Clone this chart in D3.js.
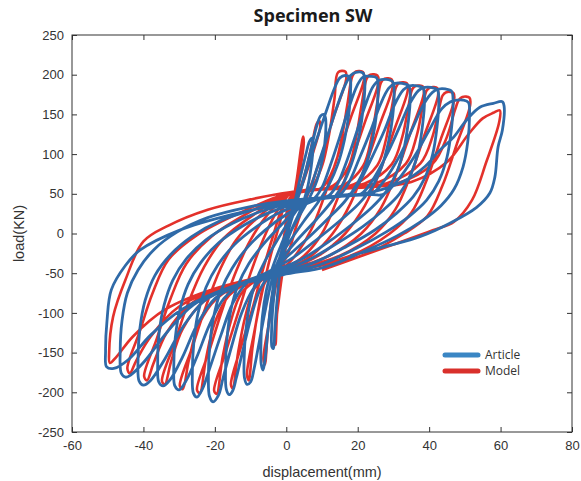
<!DOCTYPE html>
<html>
<head>
<meta charset="utf-8">
<script src="https://cdn.jsdelivr.net/npm/d3@7"></script>
<style>
  body { margin: 0; background: #fff; }
  svg { display: block; }
  .tick text { font-family: "Liberation Sans", Arial, sans-serif; font-size: 13px; fill: #333; }
</style>
</head>
<body>
<div id="chart"></div>
<script>
// axis ticks
const xTicks = [-60, -40, -20, 0, 20, 40, 60, 80];
const yTicks = [-250, -200, -150, -100, -50, 0, 50, 100, 150, 200, 250];

// Article (test) curve, one array per cycle, [displacement mm, load kN]
const article = [
  [[0,0],[1,18],[2.5,42],[4,72],[5.5,100],[6.5,116],[7.2,120],[7.5,112],[7,85],[5.8,55],[4,30],[1.5,5],[-0.5,-20],[-1.8,-50],[-2.6,-85],[-3.2,-120],[-3.6,-145],[-4,-143],[-4.1,-120],[-3.7,-90],[-3,-60],[-1.8,-32],[0,-5],[1.5,18]],
  [[2.5,35],[4,55],[5.5,80],[7,108],[8.5,135],[9.6,148],[10.5,150],[11,145],[11,125],[10.2,95],[8.6,67],[6.5,45],[4,25],[1,0],[-1.5,-25],[-3,-50],[-4.2,-85],[-5.2,-125],[-6,-160],[-6.5,-172],[-7,-165],[-7.1,-140],[-6.7,-105],[-5.6,-72],[-4,-45],[-1.5,-15],[1,12],[2.5,32]],
  [[3,45],[4.5,62],[6.5,92],[9,125],[11.5,158],[13.5,183],[15,196],[16.5,199],[17.8,196],[18,180],[17.5,150],[16.3,118],[14.5,88],[12,62],[9,40],[5,16],[1,-10],[-2,-32],[-4,-58],[-5.8,-95],[-7.5,-135],[-9,-170],[-10,-187],[-11,-190],[-11.7,-182],[-11.8,-158],[-11.3,-122],[-10.2,-88],[-8.5,-60],[-6,-35],[-3,-12],[0,10],[3,30]],
  [[5,42],[6.8,58],[9,88],[11.5,122],[14,157],[16.3,185],[18,199],[19.5,203],[21.5,202],[22,190],[21.6,160],[20.5,126],[18.8,95],[16.3,66],[13,42],[8.5,18],[3.5,-6],[-1,-30],[-4.5,-50],[-7.5,-72],[-10,-108],[-12.2,-148],[-14,-182],[-15,-198],[-16,-203],[-16.8,-196],[-17,-170],[-16.6,-132],[-15.5,-96],[-13.5,-65],[-10.5,-38],[-6.5,-14],[-2,8],[2,26],[6,40]],
  [[8,45],[10,58],[12.5,88],[15,122],[17.5,158],[19.8,186],[21.5,197],[23.5,198],[25.3,196],[25.7,183],[25.3,152],[24.2,120],[22.4,88],[19.8,62],[16.3,40],[11.5,18],[6,-6],[0,-30],[-5,-50],[-9,-68],[-12.5,-100],[-15.3,-142],[-17.7,-182],[-19,-204],[-20.5,-212],[-21.5,-205],[-21.8,-178],[-21.4,-140],[-20.3,-104],[-18.3,-72],[-15.2,-44],[-11,-18],[-6,4],[0,24],[6,38],[10,45]],
  [[12,48],[14.3,62],[17,92],[19.5,125],[22,160],[24.3,185],[26,193],[28,194],[29.8,191],[30.2,178],[29.8,148],[28.6,115],[26.7,84],[24,58],[20.2,37],[15,16],[9,-6],[2,-30],[-5,-48],[-11,-62],[-15,-88],[-18.3,-128],[-21.3,-168],[-23.5,-196],[-25,-206],[-26,-201],[-26.3,-175],[-25.9,-138],[-24.7,-100],[-22.5,-68],[-19.2,-40],[-14.5,-14],[-8.5,8],[-2,26],[5,38],[12,46]],
  [[15,49],[17.5,64],[20.5,95],[23.5,128],[26.3,162],[28.7,183],[30.5,189],[32.5,189],[34.3,186],[34.7,172],[34.2,142],[33,108],[31,78],[28,53],[24,33],[18.5,12],[12,-10],[4,-33],[-4,-48],[-12,-62],[-17.5,-82],[-21.5,-115],[-25,-155],[-28,-185],[-30,-197],[-31.2,-192],[-31.5,-168],[-31.1,-132],[-29.8,-96],[-27.5,-64],[-24,-37],[-19,-12],[-12,10],[-5,26],[3,38],[15,48]],
  [[18,50],[20.5,65],[24,96],[27.5,130],[30.3,162],[32.8,181],[34.6,186],[36.5,186],[38.3,183],[38.7,168],[38.2,138],[37,104],[34.8,74],[31.7,50],[27.3,30],[21.5,9],[14,-13],[5,-36],[-4,-50],[-13,-64],[-20,-82],[-25,-115],[-29,-155],[-32.5,-184],[-34.5,-192],[-35.7,-187],[-36,-162],[-35.6,-125],[-34.2,-90],[-31.8,-59],[-28,-32],[-22.5,-8],[-15,13],[-7,28],[2,39],[18,49]],
  [[21,50],[24,66],[28,98],[31.5,132],[34.5,163],[37,180],[38.8,184],[40.5,184],[42.3,181],[42.7,165],[42.2,134],[41,100],[38.8,70],[35.5,46],[31,26],[25,5],[17,-16],[7,-38],[-3,-50],[-14,-65],[-23,-85],[-29,-118],[-34,-158],[-38,-185],[-40,-191],[-41.2,-186],[-41.5,-158],[-41,-120],[-39.5,-84],[-36.8,-53],[-32.5,-27],[-26.5,-4],[-18.5,16],[-9,30],[1,40],[21,49]],
  [[24,50],[27.5,67],[32,100],[35.5,134],[38.5,163],[41,178],[42.8,182],[44.5,182],[46.3,179],[46.7,162],[46.2,130],[45,96],[42.7,66],[39.3,42],[34.5,22],[28,2],[19.5,-19],[9,-40],[-2,-51],[-15,-67],[-26,-90],[-33.5,-125],[-39.5,-160],[-43.5,-178],[-45,-181],[-46.2,-176],[-46.5,-148],[-46,-110],[-44.5,-75],[-41.5,-46],[-37,-20],[-30.5,2],[-22,20],[-11,33],[0,41],[24,49]],
  [[27,49],[31,66],[36,98],[40,130],[43.5,157],[46,166],[47.8,168],[49.5,168],[51,165],[51.3,148],[50.8,115],[49.5,84],[47,56],[43.3,35],[38,16],[31,-3],[22,-22],[11,-42],[-1,-52],[-16,-68],[-29,-95],[-38,-128],[-44,-158],[-48.3,-170],[-50.3,-168],[-50.6,-148],[-50.2,-110],[-49,-71],[-45,-40],[-41,-21],[-30,4],[-15,24],[0,38]],
  [[12,45],[24,52],[33,66],[39,85],[43,105],[46.8,121],[50.5,143],[54.2,159],[58,164],[60.5,166],[61,160],[60.5,130],[59.3,109],[58.4,71],[57,51],[53.3,33],[45.8,13],[37.4,-4],[28,-16],[18,-28]]
];

// Model (simulation) curve
const model = [
  [[0,0],[1.5,30],[3,70],[4.2,110],[4.7,122],[4.9,115],[3.5,70],[2,35],[0.5,5],[-1,-25],[-2,-60],[-2.7,-110],[-3,-140],[-3.2,-130],[-2,-80],[-0.5,-30],[0.5,10],[1.2,40]],
  [[2,50],[3.5,55],[5.5,80],[7.3,115],[8.5,138],[9.2,142],[9.5,135],[7,95],[4,55],[1,15],[-1,-20],[-2.5,-45],[-4,-80],[-5.2,-125],[-6,-165],[-6.4,-158],[-4.5,-105],[-2.5,-55],[-0.5,0],[1,45]],
  [[3,52],[7,58],[10,85],[12,125],[13.5,170],[14.5,203],[16.5,204],[16.8,195],[13.5,150],[10,100],[6.5,55],[3,12],[0,-30],[-3,-47],[-6,-62],[-8,-100],[-9.5,-145],[-10.5,-185],[-11,-178],[-9,-125],[-6.8,-75],[-4.5,-30],[-2,10],[0.5,48]],
  [[4,52],[10,58],[13.5,85],[15.5,120],[17.2,165],[18.5,198],[19.5,204],[21.5,203],[21.8,195],[18,145],[14,92],[10.5,45],[7,5],[3,-25],[0,-40],[-5,-52],[-9,-70],[-11.5,-105],[-13.5,-150],[-15,-195],[-15.5,-190],[-12.5,-140],[-9.5,-95],[-6.5,-45],[-3.5,0],[-1,35],[1,50]],
  [[6,54],[13,60],[17.5,85],[19.5,120],[21.2,165],[22.5,195],[23.5,200],[25.5,199],[25.8,190],[22,140],[18,88],[14,40],[10,0],[5,-28],[0,-43],[-7,-55],[-12.5,-75],[-15.5,-110],[-17.8,-155],[-19.5,-202],[-20.2,-198],[-17,-150],[-13.5,-100],[-10,-50],[-6.5,-8],[-3,25],[1,50]],
  [[8,55],[16,61],[21.5,85],[23.8,120],[25.3,160],[26.5,190],[27.5,195],[29.5,194],[29.8,185],[26,135],[22,83],[18,38],[13,0],[7,-28],[0,-45],[-9,-58],[-16,-78],[-20,-112],[-22.5,-158],[-24.2,-201],[-25,-197],[-21.5,-147],[-18,-97],[-14,-47],[-10,-8],[-5,25],[1,50]],
  [[10,56],[19,62],[25.5,86],[28,120],[29.6,160],[30.8,185],[31.8,190],[33.8,189],[34,180],[30.2,130],[26.2,78],[22,35],[16.5,0],[9,-28],[0,-46],[-11,-60],[-19.5,-82],[-24.5,-115],[-27.3,-160],[-29,-196],[-29.8,-192],[-26.3,-143],[-22.6,-93],[-18.5,-45],[-14,-8],[-7,24],[1,50]],
  [[12,57],[22,63],[29.5,87],[32.5,122],[34.2,160],[35.3,182],[36.3,186],[38.3,185],[38.5,176],[34.7,126],[30.7,74],[26.5,32],[21,0],[12,-28],[0,-47],[-13,-62],[-23,-85],[-29,-120],[-32.3,-162],[-34,-190],[-34.8,-186],[-31.3,-138],[-27.5,-88],[-23,-42],[-17.5,-6],[-9,24],[1,51]],
  [[14,57],[25,63],[33.5,88],[36.5,123],[38.2,160],[39.3,180],[40.3,184],[42.3,183],[42.5,174],[38.7,124],[34.7,72],[30.5,30],[25,0],[15,-28],[0,-48],[-15,-64],[-26.5,-88],[-33.5,-125],[-37.3,-165],[-39,-185],[-39.8,-180],[-36.3,-133],[-32.5,-83],[-28,-38],[-21,-4],[-11,25],[1,51]],
  [[16,57],[28,63],[37.5,88],[41,123],[42.8,158],[43.8,174],[44.8,178],[46.8,177],[47,168],[43.2,118],[39.2,66],[35,26],[29,0],[18,-28],[0,-48],[-17,-66],[-30,-92],[-38,-130],[-42,-160],[-43.8,-176],[-44.5,-170],[-41,-123],[-37.5,-76],[-33,-33],[-25,-2],[-13,26],[1,51]],
  [[18,57],[31,63],[41,88],[45,122],[47.2,155],[48.3,168],[49.3,172],[51.3,171],[51.5,162],[47.7,112],[43.7,60],[39.5,22],[33,0],[21,-28],[0,-49],[-19,-68],[-34,-96],[-43,-130],[-47.5,-155],[-49.4,-163],[-49.6,-150],[-48.5,-105],[-45,-58],[-40,-10],[-33,10],[-22,30],[-10,43],[1,52]],
  [[20,58],[35,65],[45,90],[51,125],[55,145],[58,152],[59.8,155],[59.6,140],[56,90],[52,42],[47,15],[41,4],[30,-14],[20,-30],[10,-46]]
];

const legendLabels = ["Article", "Model"];
const colors = { Article: "#2f6aa8", Model: "#e3312b" };

const width = 581, height = 481;
const margin = { top: 35, right: 9, bottom: 49, left: 72 };

const svg = d3.select("#chart").append("svg")
  .attr("width", width)
  .attr("height", height);

const x = d3.scaleLinear().domain([-60, 80]).range([margin.left, width - margin.right]);
const y = d3.scaleLinear().domain([-250, 250]).range([height - margin.bottom, margin.top]);

// clip so nothing spills outside the frame
svg.append("clipPath").attr("id", "plotclip")
  .append("rect")
  .attr("x", margin.left).attr("y", margin.top)
  .attr("width", x.range()[1] - margin.left)
  .attr("height", y.range()[0] - margin.top);

const line = d3.line()
  .x(d => x(d[0]))
  .y(d => y(d[1]))
  .curve(d3.curveCatmullRom.alpha(0.5));

const plot = svg.append("g").attr("clip-path", "url(#plotclip)");

// model first, article drawn over it
plot.append("path")
  .datum(model.flat())
  .attr("fill", "none")
  .attr("stroke", colors.Model)
  .attr("stroke-width", 2.6)
  .attr("stroke-linejoin", "round")
  .attr("d", line);

plot.append("path")
  .datum(article.flat())
  .attr("fill", "none")
  .attr("stroke", colors.Article)
  .attr("stroke-width", 2.8)
  .attr("stroke-linejoin", "round")
  .attr("d", line);

// axes, ticks pointing inwards, mirrored on top/right
const tickLen = 5;
const plain = d => String(d);
svg.append("g")
  .attr("transform", `translate(0,${y(-250)})`)
  .call(d3.axisBottom(x).tickValues(xTicks).tickSizeInner(-tickLen).tickSizeOuter(0).tickPadding(9).tickFormat(plain))
  .call(g => g.select(".domain").remove());
svg.append("g")
  .attr("transform", `translate(${x(-60)},0)`)
  .call(d3.axisLeft(y).tickValues(yTicks).tickSizeInner(-tickLen).tickSizeOuter(0).tickPadding(8).tickFormat(plain))
  .call(g => g.select(".domain").remove());
svg.append("g")
  .attr("transform", `translate(0,${y(250)})`)
  .call(d3.axisTop(x).tickValues(xTicks).tickSizeInner(-tickLen).tickSizeOuter(0).tickFormat(""))
  .call(g => g.select(".domain").remove());
svg.append("g")
  .attr("transform", `translate(${x(80)},0)`)
  .call(d3.axisRight(y).tickValues(yTicks).tickSizeInner(-tickLen).tickSizeOuter(0).tickFormat(""))
  .call(g => g.select(".domain").remove());

svg.selectAll(".tick line").attr("stroke", "#333");

svg.append("rect")
  .attr("x", x(-60)).attr("y", y(250))
  .attr("width", x(80) - x(-60))
  .attr("height", y(-250) - y(250))
  .attr("fill", "none")
  .attr("stroke", "#333")
  .attr("stroke-width", 1);

// title and axis labels
svg.append("text")
  .attr("x", 313).attr("y", 22)
  .attr("text-anchor", "middle")
  .style("font-family", "'Open Sans', sans-serif")
  .style("font-weight", "bold")
  .style("font-size", "18px")
  .style("fill", "#1a1a1a")
  .text("Specimen SW");

svg.append("text")
  .attr("x", (x(-60) + x(80)) / 2).attr("y", 477)
  .attr("text-anchor", "middle")
  .style("font-family", "'Liberation Sans', Arial, sans-serif")
  .style("font-size", "14.5px")
  .style("fill", "#333")
  .text("displacement(mm)");

svg.append("text")
  .attr("transform", `translate(24,${(y(250) + y(-250)) / 2}) rotate(-90)`)
  .attr("text-anchor", "middle")
  .style("font-family", "'Liberation Sans', Arial, sans-serif")
  .style("font-size", "14.5px")
  .style("fill", "#333")
  .text("load(KN)");

// legend
const legend = svg.append("g").attr("transform", "translate(445,355)");
legendLabels.forEach((name, i) => {
  const row = legend.append("g").attr("transform", `translate(0,${i * 16})`);
  row.append("line")
    .attr("x1", 0).attr("x2", 33)
    .attr("stroke", name === "Article" ? "#3a86c4" : "#d9302b")
    .attr("stroke-width", 5)
    .attr("stroke-linecap", "round");
  row.append("text")
    .attr("x", 40).attr("y", 4)
    .style("font-family", "'Open Sans', sans-serif")
    .style("font-size", "12px")
    .style("fill", "#333")
    .text(name);
});
</script>
</body>
</html>
